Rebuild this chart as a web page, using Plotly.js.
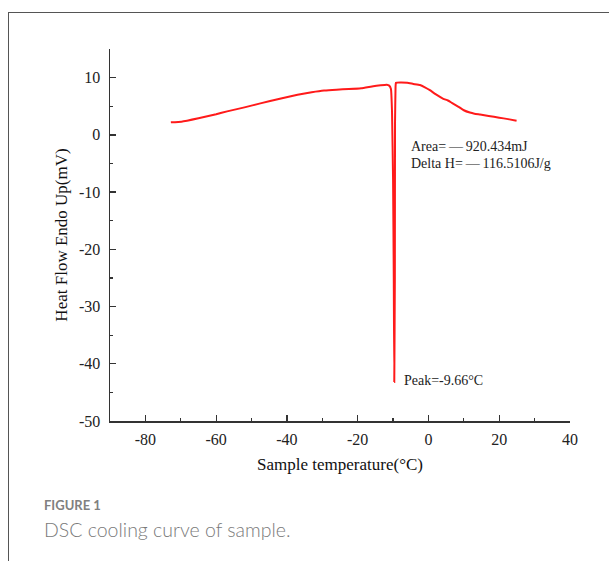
<!DOCTYPE html>
<html>
<head>
<meta charset="utf-8">
<script src="https://cdn.plot.ly/plotly-3.0.1.min.js"></script>
<style>
  html, body { margin:0; padding:0; background:#fff; }
  #wrap { position:relative; width:609px; height:561px; overflow:hidden; }
  #card { position:absolute; left:8px; top:12px; width:700px; height:600px;
          border-left:1px solid #555; border-top:1px solid #555; box-sizing:border-box; }
  #chart { position:absolute; left:0; top:0; width:609px; height:561px; }
</style>
</head>
<body>
<div id="wrap">
  <div id="card"></div>
  <div id="chart"></div>
</div>
<script>
// Sample temperature (°C)
const temperature = [-72.8, -69.8, -65, -60, -56.9, -52, -47.5, -42, -37, -33, -29.5, -26, -22.5, -19, -15.6, -13.5, -11.8, -11.1, -10.6, -10.3, -10.0, -9.8, -9.66, -9.5, -9.45, -9.3, -9.2, -8.0, -6, -4.3, -2.4, -1, 0.4, 2, 4.2, 5.5, 6.6, 8.5, 10, 11.7, 13, 14.6, 17, 20, 22.5, 24.9];
// Heat flow (mV)
const heatFlow = [2.2, 2.3, 2.9, 3.6, 4.1, 4.8, 5.5, 6.3, 7.0, 7.45, 7.75, 7.9, 8.0, 8.15, 8.5, 8.65, 8.75, 8.6, 8.0, 4.0, -8, -25, -43.2, -25, 2, 8.4, 9.1, 9.15, 9.1, 8.9, 8.7, 8.3, 7.8, 7.1, 6.3, 6.0, 5.6, 4.9, 4.3, 3.9, 3.7, 3.55, 3.3, 3.0, 2.75, 2.45];

const xTickVals = [-80, -60, -40, -20, 0, 20, 40];
const xTickText = ["-80", "-60", "-40", "-20", "0", "20", "40"];
const yTickVals = [-50, -40, -30, -20, -10, 0, 10];
const yTickText = ["-50", "-40", "-30", "-20", "-10", "0", "10"];
const annoArea = "Area=\u2009—\u2009920.434mJ";
const annoDeltaH = "Delta H=\u2009—\u2009116.5106J/g";
const annoPeak = "Peak=-9.66°C";
const xTitle = "Sample temperature(°C)";
const yTitle = "Heat Flow Endo Up(mV)";
const figLabel = "FIGURE 1";
const figCaption = "DSC cooling curve of sample.";

const serif = "Liberation Serif, Times New Roman, serif";

const trace = {
  x: temperature, y: heatFlow, type: 'scatter', mode: 'lines',
  line: { color: '#ff1a1a', width: 2, shape: 'spline', smoothing: 0.3 },
  hoverinfo: 'skip'
};

const axisCommon = {
  showline: true, linecolor: '#333', linewidth: 1.5, mirror: false,
  ticks: 'inside', ticklen: 6, tickwidth: 1.3, tickcolor: '#333',
  showgrid: false, zeroline: false,
  tickfont: { family: serif, size: 16, color: '#222' },
};

const plotW = 609 - 110 - 39, plotH = 561 - 49 - 140;
function px2paperX(px) { return (px - 110) / plotW; }
function px2paperY(py) { return (561 - 140 - py) / plotH; }

const layout = {
  width: 609, height: 561,
  margin: { l: 110, r: 39, t: 49, b: 140 },
  paper_bgcolor: 'rgba(0,0,0,0)', plot_bgcolor: 'rgba(0,0,0,0)',
  showlegend: false,
  xaxis: Object.assign({}, axisCommon, {
    range: [-90, 40], tickmode: 'array', tickvals: xTickVals, ticktext: xTickText,
    ticklabelstandoff: 3,
    minor: { dtick: 10, tick0: 0, ticks: 'inside', ticklen: 3, tickcolor: '#333', tickwidth: 1.2 },
    title: { text: xTitle, font: { family: serif, size: 17, color: '#111' }, standoff: 11 }
  }),
  yaxis: Object.assign({}, axisCommon, {
    range: [-50, 15], tickmode: 'array', tickvals: yTickVals, ticktext: yTickText,
    ticklabelstandoff: 5,
    minor: { dtick: 5, tick0: 0, ticks: 'inside', ticklen: 3, tickcolor: '#333', tickwidth: 1.2 },
    title: { text: yTitle, font: { family: serif, size: 17, color: '#111' }, standoff: 7 }
  }),
  annotations: [
    { x: -5.5, y: -2.0, xref: 'x', yref: 'y', text: annoArea, showarrow: false,
      xanchor: 'left', yanchor: 'middle', font: { family: serif, size: 14, color: '#222' } },
    { x: -5.5, y: -5.0, xref: 'x', yref: 'y', text: annoDeltaH, showarrow: false,
      xanchor: 'left', yanchor: 'middle', font: { family: serif, size: 14, color: '#222' } },
    { x: -7.5, y: -43.0, xref: 'x', yref: 'y', text: annoPeak, showarrow: false,
      xanchor: 'left', yanchor: 'middle', font: { family: serif, size: 14, color: '#222' } },
    { x: px2paperX(42), y: px2paperY(505), xref: 'paper', yref: 'paper',
      text: '<b>' + figLabel + '</b>', showarrow: false, xanchor: 'left', yanchor: 'middle',
      font: { family: 'Lato, Open Sans, sans-serif', size: 13, color: '#808080' } },
    { x: px2paperX(42), y: px2paperY(529), xref: 'paper', yref: 'paper',
      text: figCaption, showarrow: false, xanchor: 'left', yanchor: 'middle',
      font: { family: 'Lato, Open Sans, sans-serif', size: 19.5, color: '#7a7a7a', weight: 300 } }
  ]
};

Plotly.newPlot('chart', [trace], layout, { displayModeBar: false, staticPlot: true });
</script>
</body>
</html>
